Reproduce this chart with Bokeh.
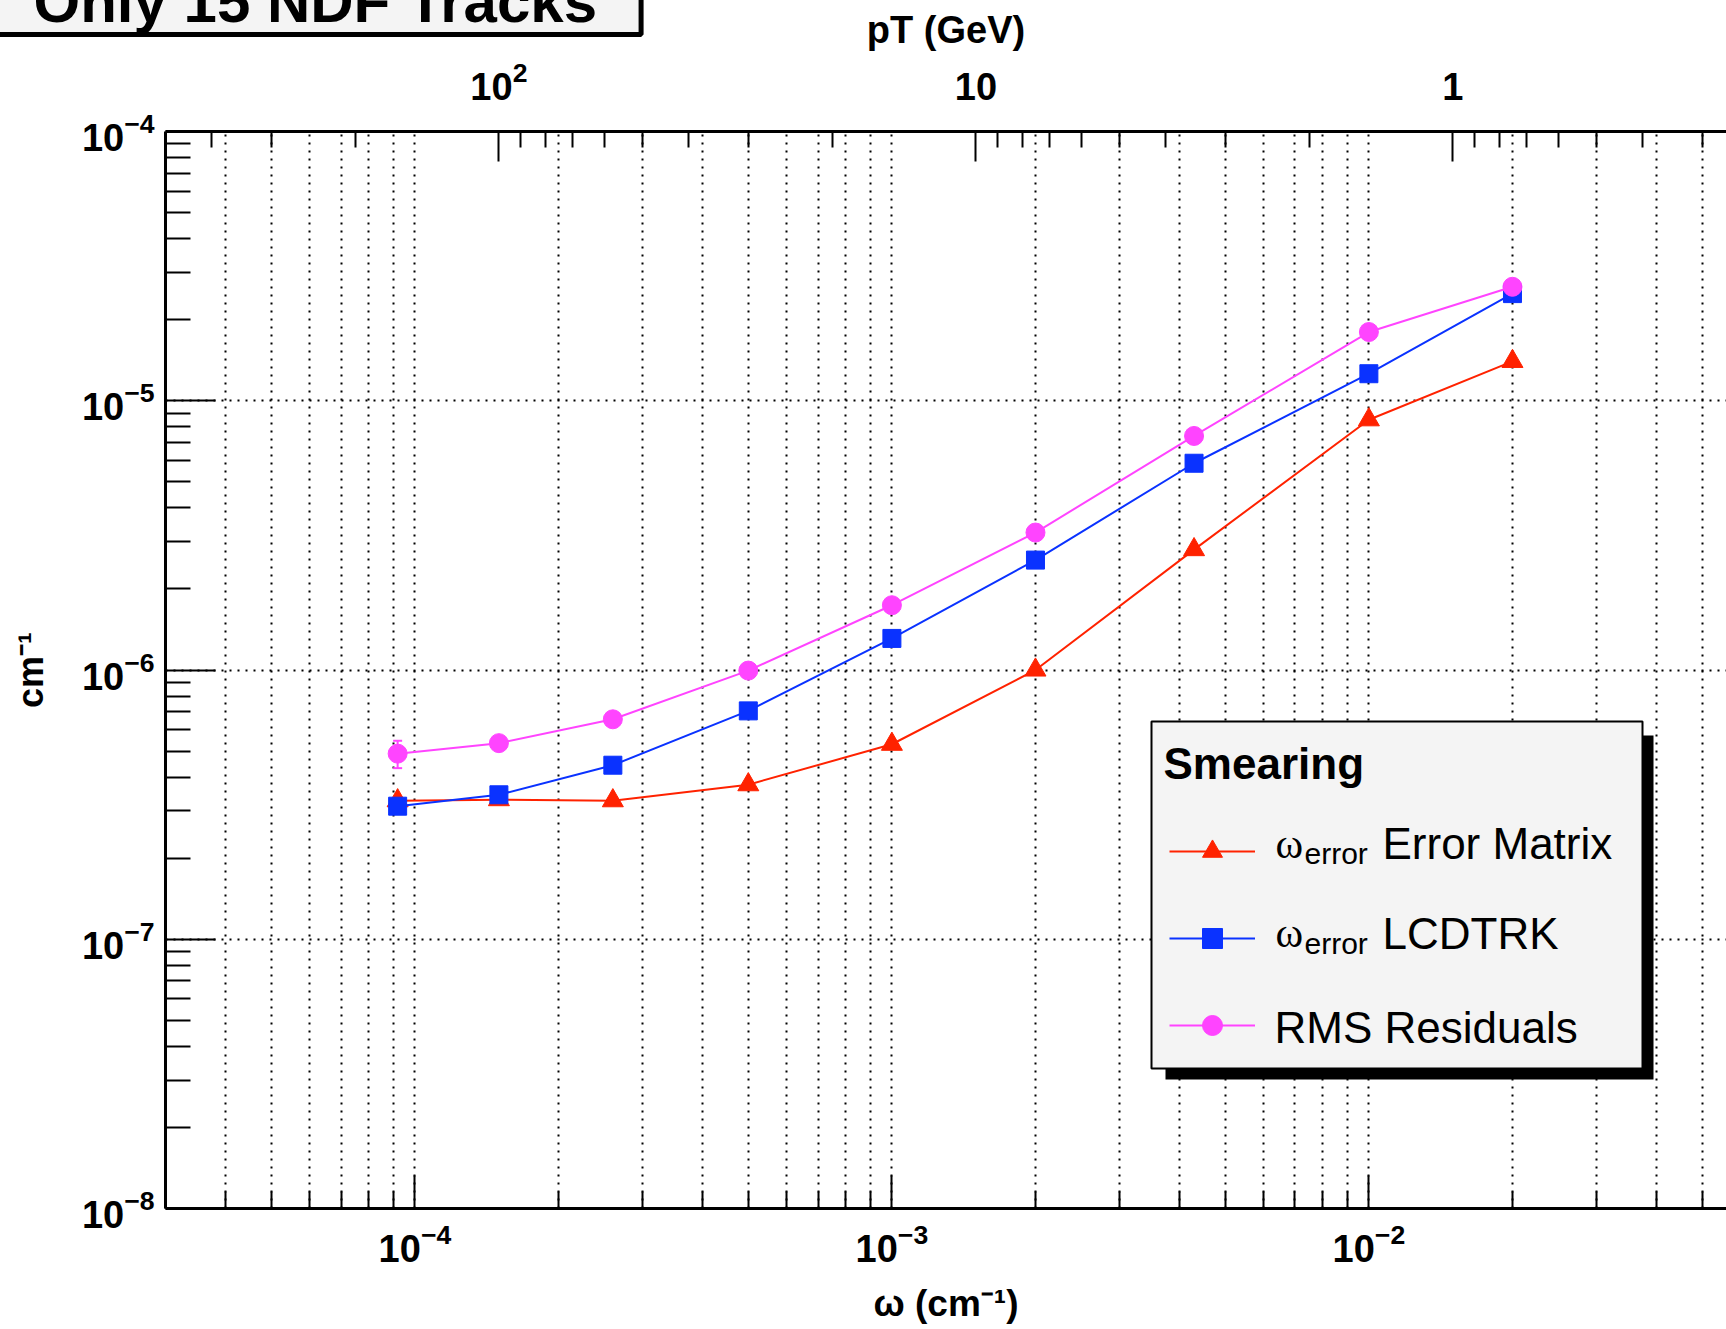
import math
from bokeh.plotting import figure
from bokeh.models import (Range1d, LogScale, LogAxis, FixedTicker, LogTickFormatter,
                          BoxAnnotation, Label, Legend, LegendItem, Whisker,
                          ColumnDataSource, TeeHead, Title)
from bokeh.embed import file_html
from bokeh.resources import INLINE

# ---------------- data ----------------
omega = [9.2e-5, 1.5e-4, 2.6e-4, 5.0e-4, 1.0e-3, 2.0e-3, 4.3e-3, 1.0e-2, 2.0e-2]
err_matrix = [3.27e-7, 3.30e-7, 3.27e-7, 3.75e-7, 5.3e-7, 1.0e-6, 2.8e-6, 8.5e-6, 1.4e-5]
lcdtrk = [3.12e-7, 3.44e-7, 4.43e-7, 7.05e-7, 1.31e-6, 2.56e-6, 5.86e-6, 1.26e-5, 2.5e-5]
rms_resid = [4.89e-7, 5.35e-7, 6.56e-7, 9.95e-7, 1.74e-6, 3.24e-6, 7.4e-6, 1.8e-5, 2.65e-5]
rms_err = [5.7e-8, 0, 0, 0, 0, 0, 0, 0, 0]

legend_title = "Smearing"
series_names = ["Error Matrix", "LCDTRK", "RMS Residuals"]
title_text = "Only 15 NDF Tracks"
x_title = "\u03c9 (cm\u207b\u00b9)"
y_title = "cm\u207b\u00b9"
top_title = "pT (GeV)"

B_FIELD = 5.0                       # tesla, pT = 0.3 B / (100 omega)
PT_K = 0.3 * B_FIELD / 100.0

X_START, X_END = 3.0e-5, 0.0562
Y_START, Y_END = 1e-8, 1e-4

RED, BLUE, MAG = "#ff2200", "#0a32ff", "#ff44ff"
SANS = "Liberation Sans"
SERIF = "Liberation Serif"

# ---------------- layout ----------------
W, H = 1726, 1329
FL, FT, FB = 165, 131, 1208          # frame left / top / bottom in canvas px


def sx(xc):
    return xc - FL


def sy(yc):
    return FB - yc


p = figure(width=W, height=H, x_axis_type="log", y_axis_type="log",
           x_range=Range1d(X_START, X_END), y_range=Range1d(Y_START, Y_END),
           output_backend="svg", toolbar_location=None,
           min_border_left=FL, min_border_right=0, min_border_top=FT,
           min_border_bottom=H - FB, outline_line_color=None,
           background_fill_color="white", border_fill_color="white")


def decade_ticks(lo_exp, hi_exp):
    majors = [10.0 ** k for k in range(lo_exp, hi_exp + 1)]
    minors = [m * 10.0 ** k for k in range(lo_exp, hi_exp) for m in range(2, 10)]
    return majors, minors


x_major, x_minor = decade_ticks(-5, -1)
y_major, y_minor = decade_ticks(-8, -4)
pt_major, pt_minor = decade_ticks(-1, 3)


def style_axis(ax, tick_in, minor_in, standoff, title_size="36px"):
    ax.axis_line_width = 3
    ax.axis_line_color = "black"
    ax.major_tick_in = tick_in
    ax.major_tick_out = 0
    ax.minor_tick_in = minor_in
    ax.minor_tick_out = 0
    ax.major_tick_line_width = 2
    ax.minor_tick_line_width = 2
    ax.major_tick_line_color = "black"
    ax.minor_tick_line_color = "black"
    ax.major_label_text_font = SANS
    ax.major_label_text_font_style = "bold"
    ax.major_label_text_font_size = "38px"
    ax.major_label_text_color = "black"
    ax.major_label_standoff = standoff
    ax.axis_label_text_font = SANS
    ax.axis_label_text_font_style = "bold"
    ax.axis_label_text_font_size = title_size
    ax.axis_label_text_color = "black"


xa = p.xaxis[0]
xa.ticker = FixedTicker(ticks=x_major, minor_ticks=x_minor)
xa.formatter = LogTickFormatter()
style_axis(xa, 33, 17, 14, "37px")
xa.axis_label = x_title
xa.axis_label_standoff = 18

ya = p.yaxis[0]
ya.ticker = FixedTicker(ticks=y_major, minor_ticks=y_minor)
ya.formatter = LogTickFormatter()
style_axis(ya, 50, 25, 11)
ya.axis_label = y_title
ya.axis_label_standoff = 28

# top pT axis
p.extra_x_ranges = {"pt": Range1d(PT_K / X_START, PT_K / X_END)}
p.extra_x_scales = {"pt": LogScale()}
top = LogAxis(x_range_name="pt",
              ticker=FixedTicker(ticks=pt_major, minor_ticks=pt_minor),
              formatter=LogTickFormatter(min_exponent=2),
              axis_label=top_title)
style_axis(top, 30, 16, 32, "38px")
top.axis_label_standoff = 7
p.add_layout(top, "above")

# title box in the top-left corner (partly cut by the canvas edge)
p.add_layout(Title(text=title_text, align="left", vertical_align="top",
                   offset=-176, standoff=-76,
                   text_font=SANS, text_font_style="bold", text_font_size="60px",
                   text_color="black",
                   background_fill_color="#f4f4f4", border_line_color="black",
                   border_line_width=5, padding=(44, 0)), "above")

# grids
xg = p.xgrid[0]
xg.ticker = FixedTicker(ticks=x_major, minor_ticks=x_minor)
xg.grid_line_color = "black"
xg.grid_line_dash = "2 6"
xg.grid_line_width = 2
xg.minor_grid_line_color = "black"
xg.minor_grid_line_dash = "2 6"
xg.minor_grid_line_width = 2

yg = p.ygrid[0]
yg.ticker = FixedTicker(ticks=y_major[1:-1])
yg.grid_line_color = "black"
yg.grid_line_dash = "2 6"
yg.grid_line_width = 2

# ---------------- data series ----------------
r1l = p.line(omega, err_matrix, line_color=RED, line_width=2)
r1s = p.scatter(omega, err_matrix, marker="triangle", size=21, fill_color=RED, line_color=RED)
r2l = p.line(omega, lcdtrk, line_color=BLUE, line_width=2)
r2s = p.scatter(omega, lcdtrk, marker="square", size=18, fill_color=BLUE, line_color=BLUE)
r3l = p.line(omega, rms_resid, line_color=MAG, line_width=2)
r3s = p.scatter(omega, rms_resid, marker="circle", size=19, fill_color=MAG, line_color=MAG)

ex, elo, ehi = [], [], []
for xv, yv, ev in zip(omega, rms_resid, rms_err):
    if ev > 0:
        ex.append(xv)
        elo.append(yv - ev)
        ehi.append(yv + ev)
err_src = ColumnDataSource(dict(x=ex, lo=elo, hi=ehi))
p.add_layout(Whisker(source=err_src, base="x", lower="lo", upper="hi", dimension="height",
                     line_color=MAG, line_width=2,
                     upper_head=TeeHead(size=9, line_color=MAG, line_width=2),
                     lower_head=TeeHead(size=9, line_color=MAG, line_width=2)))

# ---------------- legend box ----------------
def box(l, r, t, b, fill, line=None, lw=0):
    return BoxAnnotation(left=sx(l), right=sx(r), top=sy(t), bottom=sy(b),
                         left_units="screen", right_units="screen",
                         top_units="screen", bottom_units="screen",
                         fill_color=fill, fill_alpha=1.0,
                         line_color=line, line_alpha=1.0 if line else 0.0,
                         line_width=lw, level="annotation")


p.add_layout(box(1165, 1653, 735, 1079, "black"))
p.add_layout(box(1151, 1642, 721, 1068, "#f4f4f4", "black", 2))

legend = Legend(items=[LegendItem(label=" ", renderers=[r1l, r1s]),
                       LegendItem(label=" ", renderers=[r2l, r2s]),
                       LegendItem(label=" ", renderers=[r3l, r3s])],
                location=(sx(1169), sy(1050)), orientation="vertical",
                glyph_width=86, glyph_height=50, spacing=37, padding=0, margin=0,
                border_line_color=None, background_fill_alpha=0.0,
                label_text_font_size="10px", label_standoff=0, label_width=1,
                label_height=50)
p.add_layout(legend)


def label(text, xc, yc, size, font=SANS, style="normal", angle=0.0):
    p.add_layout(Label(x=sx(xc), y=sy(yc), x_units="screen", y_units="screen",
                       text=text, text_font=font, text_font_style=style,
                       text_font_size=size, text_color="black",
                       text_baseline="alphabetic", text_align="left", angle=angle))


label(legend_title, 1163, 763, "44px", style="bold")
row_y = [843, 932.5, 1026.5]
for i in range(2):
    label("\u03c9", 1275, row_y[i], "42px", font=SERIF)
    label("error", 1304, row_y[i] + 10, "30px")
    label(series_names[i], 1382, row_y[i], "44px")
label(series_names[2], 1274, row_y[2], "44px")

open("out.html", "w").write(file_html(p, INLINE))
